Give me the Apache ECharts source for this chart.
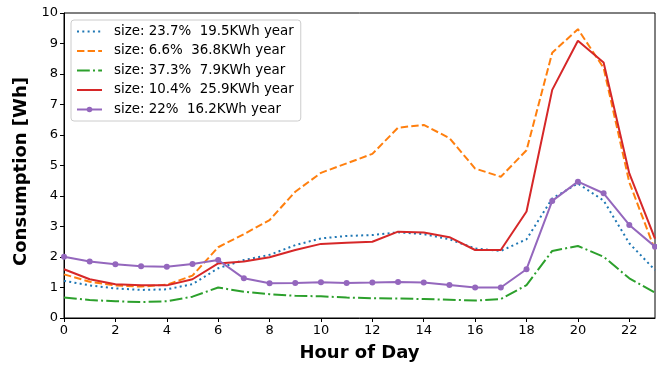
<!DOCTYPE html>
<html><head><meta charset="utf-8">
<script src="https://cdn.jsdelivr.net/npm/echarts@6/dist/echarts.min.js"></script>
<style>html,body{margin:0;padding:0;background:#fff}#c{width:657px;height:367px}</style>
</head><body><div id="c"></div>
<script>
const hours = [0,1,2,3,4,5,6,7,8,9,10,11,12,13,14,15,16,17,18,19,20,21,22,23];
const names = ['size: 23.7%  19.5KWh year','size: 6.6%  36.8KWh year','size: 37.3%  7.9KWh year','size: 10.4%  25.9KWh year','size: 22%  16.2KWh year'];
const blueVals   = [1.22,1.07,0.97,0.92,0.94,1.11,1.63,1.90,2.07,2.39,2.61,2.69,2.72,2.81,2.75,2.58,2.28,2.20,2.58,3.92,4.41,3.85,2.45,1.57];
const orangeVals = [1.43,1.19,1.07,1.03,1.09,1.39,2.32,2.75,3.21,4.14,4.76,5.07,5.38,6.24,6.33,5.90,4.90,4.63,5.50,8.70,9.47,8.20,4.45,2.23];
const greenVals  = [0.67,0.59,0.55,0.52,0.55,0.70,1.00,0.86,0.78,0.73,0.71,0.67,0.65,0.64,0.62,0.60,0.57,0.62,1.08,2.20,2.36,2.01,1.30,0.83];
const redVals    = [1.60,1.27,1.11,1.07,1.07,1.27,1.79,1.85,1.99,2.23,2.43,2.47,2.50,2.83,2.80,2.65,2.23,2.23,3.49,7.48,9.09,8.38,4.74,2.60];
const purpleVals = [2.01,1.85,1.76,1.70,1.68,1.77,1.90,1.30,1.14,1.15,1.17,1.15,1.16,1.18,1.16,1.08,1.00,1.00,1.60,3.84,4.47,4.09,3.05,2.34];
const colors = ['#1f77b4','#ff7f0e','#2ca02c','#d62728','#9467bd'];
const dashes = [[2,3.3],[7.4,3.2],[12.8,3.2,2,3.2],'solid','solid'];
const allVals = [blueVals,orangeVals,greenVals,redVals,purpleVals];
const FONT = 'DejaVu Sans';
const chart = echarts.init(document.getElementById('c'));
chart.setOption({
  animation:false,
  textStyle:{fontFamily:FONT},
  grid:{left:64,right:2,top:13,bottom:49,show:true,borderColor:'#000',borderWidth:1,backgroundColor:'transparent'},
  legend:{
    left:71,top:20,orient:'vertical',
    itemWidth:25,itemHeight:7,itemGap:6.5,
    padding:[5,7,5,5],
    backgroundColor:'rgba(255,255,255,0.8)',
    borderColor:'#ccc',borderWidth:1,borderRadius:3,
    textStyle:{fontFamily:FONT,fontSize:13.4,color:'#000',padding:[0,0,0,7]},
    data: names.map((n,i)=> i===4 ? {name:n} : {name:n,itemStyle:{opacity:0}})
  },
  xAxis:{
    type:'value',min:0,max:23,interval:2,
    name:'Hour of Day',nameLocation:'middle',nameGap:26,
    nameTextStyle:{fontFamily:FONT,fontSize:18,fontWeight:'bold',color:'#000'},
    axisLine:{show:true,lineStyle:{color:'#000',width:1}},
    axisTick:{show:true,length:4,lineStyle:{color:'#000'}},
    axisLabel:{color:'#000',fontSize:13,fontFamily:FONT,margin:6,showMaxLabel:false},
    splitLine:{show:false}
  },
  yAxis:{
    type:'value',min:0,max:10,interval:1,
    name:'Consumption [Wh]',nameLocation:'middle',nameGap:33,
    nameTextStyle:{fontFamily:FONT,fontSize:18,fontWeight:'bold',color:'#000',padding:[0,12,0,0]},
    axisLine:{show:true,lineStyle:{color:'#000',width:1}},
    axisTick:{show:true,length:4,lineStyle:{color:'#000'}},
    axisLabel:{color:'#000',fontSize:13,fontFamily:FONT,margin:6},
    splitLine:{show:false}
  },
  series: allVals.map((vals,i)=>({
    type:'line',name:names[i],
    data: hours.map((h,j)=>[h,vals[j]]),
    symbol: i===4?'circle':'none',symbolSize:6,showSymbol:i===4,
    itemStyle:{color:colors[i]},
    lineStyle:{color:colors[i],width:2,type:dashes[i]},
    z: 2+i
  }))
});
</script></body></html>
